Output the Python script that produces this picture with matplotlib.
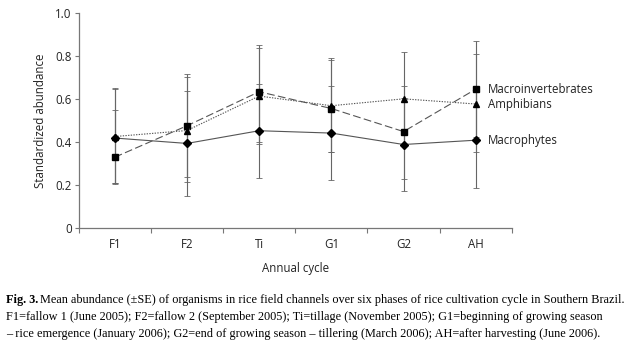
import numpy as np
import matplotlib.pyplot as plt

phases = ['F1', 'F2', 'Ti', 'G1', 'G2', 'AH']

macrophytes = [0.419, 0.394, 0.453, 0.442, 0.389, 0.409]
macrophytes_lo = [0.214, 0.242, 0.220, 0.217, 0.214, 0.223]
macrophytes_hi = [0.232, 0.245, 0.217, 0.218, 0.214, 0.223]

macroinv = [0.330, 0.476, 0.634, 0.556, 0.449, 0.646]
macroinv_lo = [0.120, 0.238, 0.234, 0.200, 0.220, 0.222]
macroinv_hi = [0.219, 0.238, 0.219, 0.234, 0.213, 0.222]

amphibians = [0.426, 0.454, 0.614, 0.569, 0.601, 0.577]
amphibians_lo = [0.214, 0.240, 0.224, 0.216, 0.218, 0.225]
amphibians_hi = [0.220, 0.248, 0.223, 0.214, 0.218, 0.232]

series = [
    ('Macroinvertebrates', macroinv, macroinv_lo, macroinv_hi, 's', (0, (7, 3)), 4.5),
    ('Amphibians', amphibians, amphibians_lo, amphibians_hi, '^', (0, (1.2, 1.2)), 5),
    ('Macrophytes', macrophytes, macrophytes_lo, macrophytes_hi, 'D', '-', 4),
]

caption_bold = 'Fig. 3.'
caption_lines = [
    'Mean abundance (\u00b1SE) of organisms in rice field channels over six phases of rice cultivation cycle in Southern Brazil.',
    'F1=fallow 1 (June 2005); F2=fallow 2 (September 2005); Ti=tillage (November 2005); G1=beginning of growing season',
    '\u2013 rice emergence (January 2006); G2=end of growing season \u2013 tillering (March 2006); AH=after harvesting (June 2006).',
]

plt.rcParams['font.family'] = 'Open Sans'

fig = plt.figure(figsize=(6.26, 3.52), dpi=100)
ax = fig.add_axes([0.1257, 0.3514, 0.692, 0.612])

x = np.arange(1, len(phases) + 1)
for name, vals, lo, hi, mk, ls, ms in series:
    ax.errorbar(x, vals, yerr=[lo, hi], fmt='none', ecolor='#666666',
                elinewidth=0.8, capsize=2, capthick=0.6, zorder=1)
    ax.plot(x, vals, color='#555555', linestyle=ls, linewidth=0.8,
            marker=mk, markersize=ms, markerfacecolor='black',
            markeredgecolor='black', zorder=3)
    ax.annotate(name, (x[-1], vals[-1]), xytext=(9, 0), textcoords='offset points',
                va='center', ha='left', fontsize=8.3, color='#222222',
                annotation_clip=False)

ax.set_xlim(0.5, 6.5)
ax.set_ylim(0, 1.0)
ax.set_xticks(x)
ax.set_xticklabels(phases)
ax.set_xticks(np.arange(0.5, 7, 1), minor=True)
ax.tick_params(axis='x', which='major', length=0, pad=7, labelsize=8.3, colors='#222222')
ax.tick_params(axis='x', which='minor', length=3.5, width=0.8, color='#777777')
ax.set_yticks([0, 0.2, 0.4, 0.6, 0.8, 1.0])
ax.set_yticklabels(['0', '0.2', '0.4', '0.6', '0.8', '1.0'])
ax.tick_params(axis='y', length=3, width=0.8, color='#777777', labelsize=8.3,
               labelcolor='#222222', pad=2)

for s in ['top', 'right']:
    ax.spines[s].set_visible(False)
for s in ['left', 'bottom']:
    ax.spines[s].set_color('#777777')
    ax.spines[s].set_linewidth(0.9)

ax.set_xlabel('Annual cycle', fontsize=8.3, color='#222222', labelpad=8)
ax.set_ylabel('Standardized abundance', fontsize=8.3, color='#222222', labelpad=6)

serif = 'Liberation Serif'
cap_fs = 8.8
y0 = 0.138
bold = fig.text(0.01, y0, caption_bold, fontsize=cap_fs, family=serif, weight='bold')
renderer = fig.canvas.get_renderer()
bb = bold.get_window_extent(renderer)
fig.text(bb.x1 / fig.bbox.width + 0.003, y0, caption_lines[0], fontsize=cap_fs, family=serif)
for i, line in enumerate(caption_lines[1:]):
    fig.text(0.01, y0 - 0.048 * (i + 1), line, fontsize=cap_fs, family=serif)

fig.savefig('out.png', dpi=100)
